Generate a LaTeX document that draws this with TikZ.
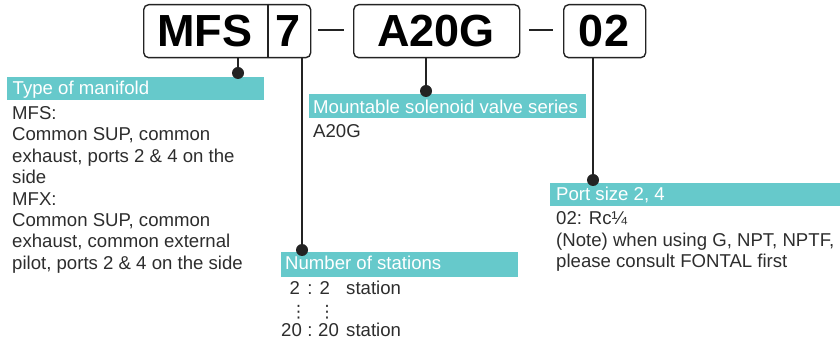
\documentclass[tikz,border=0pt]{standalone}
\usepackage{fontspec}
\setmainfont{Liberation Sans}
\newfontfamily\symfont{DejaVu Sans}
\usetikzlibrary{calc}
\definecolor{band}{RGB}{102,201,203}
\definecolor{ink}{RGB}{35,35,35}
\definecolor{bodyc}{RGB}{45,45,45}
\tikzset{
  codebox/.style={draw=ink, line width=1.4pt, rounded corners=5pt, inner sep=0pt, anchor=north west},
  codetext/.style={font=\fontsize{45}{45}\selectfont\bfseries, text=black, inner sep=0pt, anchor=base},
  dashline/.style={draw=ink, line width=1.8pt},
  bandbox/.style={fill=band, draw=none, inner sep=0pt, anchor=north west},
  bandtext/.style={font=\fontsize{18.6}{21.3}\selectfont, text=white, inner sep=0pt, anchor=base west},
  bodytext/.style={font=\fontsize{18.6}{21.4}\selectfont, text=bodyc, inner sep=0pt, align=left, anchor=north west},
  bodyline/.style={font=\fontsize{18.6}{21.3}\selectfont, text=bodyc, inner sep=0pt},
  leader/.style={draw=ink, line width=2pt},
  leaderdot/.style={fill=ink},
}
\begin{document}
\begin{tikzpicture}[x=1pt,y=-1pt]
\useasboundingbox (0,0) rectangle (840,344);

% code boxes
\node[codebox, minimum width=167pt, minimum height=53pt] (b1) at (143,4) {};
\draw[draw=ink, line width=1.4pt] ($(b1.north west)+(125,0)$) -- ($(b1.south west)+(125,0)$);
\node[codetext] (tmfs) at (205,47) {MFS};
\node[codetext] (t7) at (288,47) {7};
\draw[dashline] (318,30) -- (344,30);
\node[codebox, minimum width=166pt, minimum height=53pt] (b2) at (353,4) {};
\node[codetext] (ta20g) at (436,47) {A20G};
\draw[dashline] (529,30) -- (553,30);
\node[codebox, minimum width=82pt, minimum height=53pt] (b3) at (563,4) {};
\node[codetext] (t02) at (604,47) {02};

% bands
\node[bandbox, minimum width=257pt, minimum height=23pt] (bd1) at (7,77) {};
\node[bandtext] (l1) at (12.5,94.7) {Type of manifold};
\node[bandbox, minimum width=277pt, minimum height=24pt] (bd2) at (309,94) {};
\node[bandtext] (l2) at (313,114) {Mountable solenoid valve series};
\node[bandbox, minimum width=237pt, minimum height=25pt] (bd3) at (281,252) {};
\node[bandtext] (l3) at (285,270) {Number of stations};
\node[bandbox, minimum width=290pt, minimum height=23pt] (bd4) at (550,183) {};
\node[bandtext] (l4) at (556,200.7) {Port size 2, 4};

% leaders
\coordinate (d1) at (238,73);
\coordinate (d2) at (302,250);
\coordinate (d3) at (426,91);
\coordinate (d4) at (593,180);
\draw[leader] (b1.south west -| d1) -- (d1);
\draw[leader] (b1.south west -| d2) -- (d2);
\draw[leader] (b2.south west -| d3) -- (d3);
\draw[leader] (b3.south west -| d4) -- (d4);
\fill[leaderdot] (d1) circle (6pt);
\fill[leaderdot] (d2) circle (6pt);
\fill[leaderdot] (d3) circle (6pt);
\fill[leaderdot] (d4) circle (6pt);

% body texts
\node[bodytext] (x1) at (12,106.4) {MFS:\\Common SUP, common\\exhaust, ports 2 \& 4 on the\\side\\MFX:\\Common SUP, common\\exhaust, common external\\pilot, ports 2 \& 4 on the side};
\node[bodyline, anchor=base west] (x2) at (313,137.3) {A20G};
\node[bodytext] (x4) at (556,211.7) {02: Rc¼\\(Note) when using G, NPT, NPTF,\\please consult FONTAL first};

% stations
\node[bodyline, anchor=base west] (s1a) at (289.5,295) {2};
\node[bodyline, anchor=base] (s1b) at (310,295) {:};
\node[bodyline, anchor=base west] (s1c) at (319.5,295) {2};
\node[bodyline, anchor=base west] (s1d) at (346,295) {station};
\node[font=\symfont\fontsize{17}{17}\selectfont, text=bodyc, inner sep=0pt] (v1) at (298.5,312) {⋮};
\node[font=\symfont\fontsize{17}{17}\selectfont, text=bodyc, inner sep=0pt] (v2) at (327,312) {⋮};
\node[bodyline, anchor=base west] (s3a) at (281,336.7) {20};
\node[bodyline, anchor=base] (s3b) at (310,336.7) {:};
\node[bodyline, anchor=base west] (s3c) at (318,336.7) {20};
\node[bodyline, anchor=base west] (s3d) at (346,336.7) {station};
\end{tikzpicture}
\end{document}
